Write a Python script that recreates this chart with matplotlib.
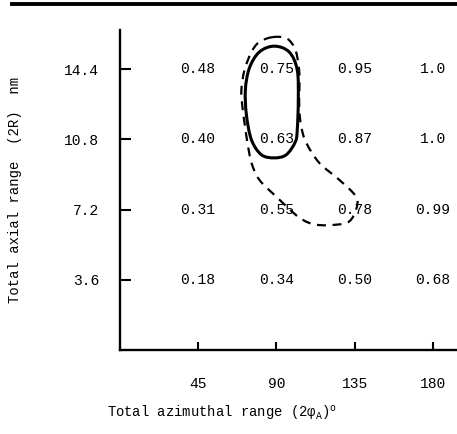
import numpy as np
import matplotlib
matplotlib.use("Agg")
import matplotlib.pyplot as plt
from matplotlib.path import Path
from matplotlib.patches import PathPatch
from matplotlib.lines import Line2D

plt.rcParams['font.family'] = ['Liberation Mono', 'DejaVu Sans Mono']
plt.rcParams['mathtext.fontset'] = 'custom'
plt.rcParams['mathtext.rm'] = 'Liberation Mono'
plt.rcParams['mathtext.it'] = 'Liberation Mono'

# grid of values: azimuthal range (deg) x axial range (nm)
azimuthal = [45, 90, 135, 180]
axial = [14.4, 10.8, 7.2, 3.6]
cell_values = [
    ["0.48", "0.75", "0.95", "1.0"],
    ["0.40", "0.63", "0.87", "1.0"],
    ["0.31", "0.55", "0.78", "0.99"],
    ["0.18", "0.34", "0.50", "0.68"],
]

# solid contour
solid_x = [88.8, 97.4, 102.0, 102.6, 102.0, 100.9, 95.7, 88.8, 81.4, 75.7, 72.8, 72.2, 74.5, 80.2]
solid_y = [15.57, 15.27, 14.35, 12.82, 11.28, 10.67, 10.01, 9.85, 10.01, 10.77, 12.05, 13.33, 14.45, 15.27]

# dashed contour
dash_x = [87.7, 95.7, 100.3, 102.0, 103.2, 103.2, 103.2, 104.3, 107.2, 114.6, 126.1, 135.8, 135.8,
          131.8, 124.4, 112.9, 103.2, 90.0, 80.2, 75.7, 73.4, 71.7, 70.5, 69.9, 71.7, 75.7, 80.2]
dash_y = [16.03, 15.98, 15.52, 15.01, 14.20, 13.22, 12.31, 11.44, 10.62, 9.60, 8.73, 7.86, 7.20,
          6.59, 6.43, 6.43, 6.79, 7.86, 8.73, 9.60, 10.62, 11.64, 12.46, 13.33, 14.35, 15.27, 15.78]


def closed_curve(xs, ys):
    # smooth closed path through the points (catmull-rom as cubic beziers)
    p = np.column_stack([xs, ys])
    n = len(p)
    verts = [p[0]]
    codes = [Path.MOVETO]
    for i in range(n):
        p0, p1, p2, p3 = p[i - 1], p[i], p[(i + 1) % n], p[(i + 2) % n]
        verts += [p1 + (p2 - p0) / 6, p2 - (p3 - p1) / 6, p2]
        codes += [Path.CURVE4] * 3
    return Path(verts, codes)


fig = plt.figure(figsize=(4.57, 4.34), dpi=100)
ax = fig.add_axes([0.262, 0.193, 0.738, 0.738])

for i, yv in enumerate(axial):
    for j, xv in enumerate(azimuthal):
        ax.text(xv, yv, cell_values[i][j], ha='center', va='center', fontsize=10.5)

ax.add_patch(PathPatch(closed_curve(solid_x, solid_y), fill=False, lw=2.2, color='black'))
ax.add_patch(PathPatch(closed_curve(dash_x, dash_y), fill=False, lw=1.6, color='black',
                       linestyle=(0, (4, 3))))

ax.set_xlim(0, 193.8)
ax.set_ylim(0, 16.4)
ax.set_xticks(azimuthal)
ax.set_xticklabels([str(v) for v in azimuthal])
ax.set_yticks(axial)
ax.set_yticklabels([str(v) for v in axial])

for s in ['top', 'right']:
    ax.spines[s].set_visible(False)
for s in ['left', 'bottom']:
    ax.spines[s].set_linewidth(1.7)

ax.tick_params(axis='y', direction='in', length=8, width=1.5, pad=15, labelsize=10.5)
ax.tick_params(axis='x', direction='in', length=6, width=1.5, pad=19, labelsize=10.5)

ax.set_ylabel('Total axial range  (2R)  nm', fontsize=10, labelpad=30)
fig.text(0.234, 0.037, 'Total azimuthal range (2φ$_{\\mathrm{A}}$)$^{\\mathrm{o}}$', fontsize=10)

# thick rule across the top of the page
fig.add_artist(Line2D([0.026, 1.0], [0.99, 0.99], lw=2.8, color='black', transform=fig.transFigure))

fig.savefig('out.png', dpi=100)
